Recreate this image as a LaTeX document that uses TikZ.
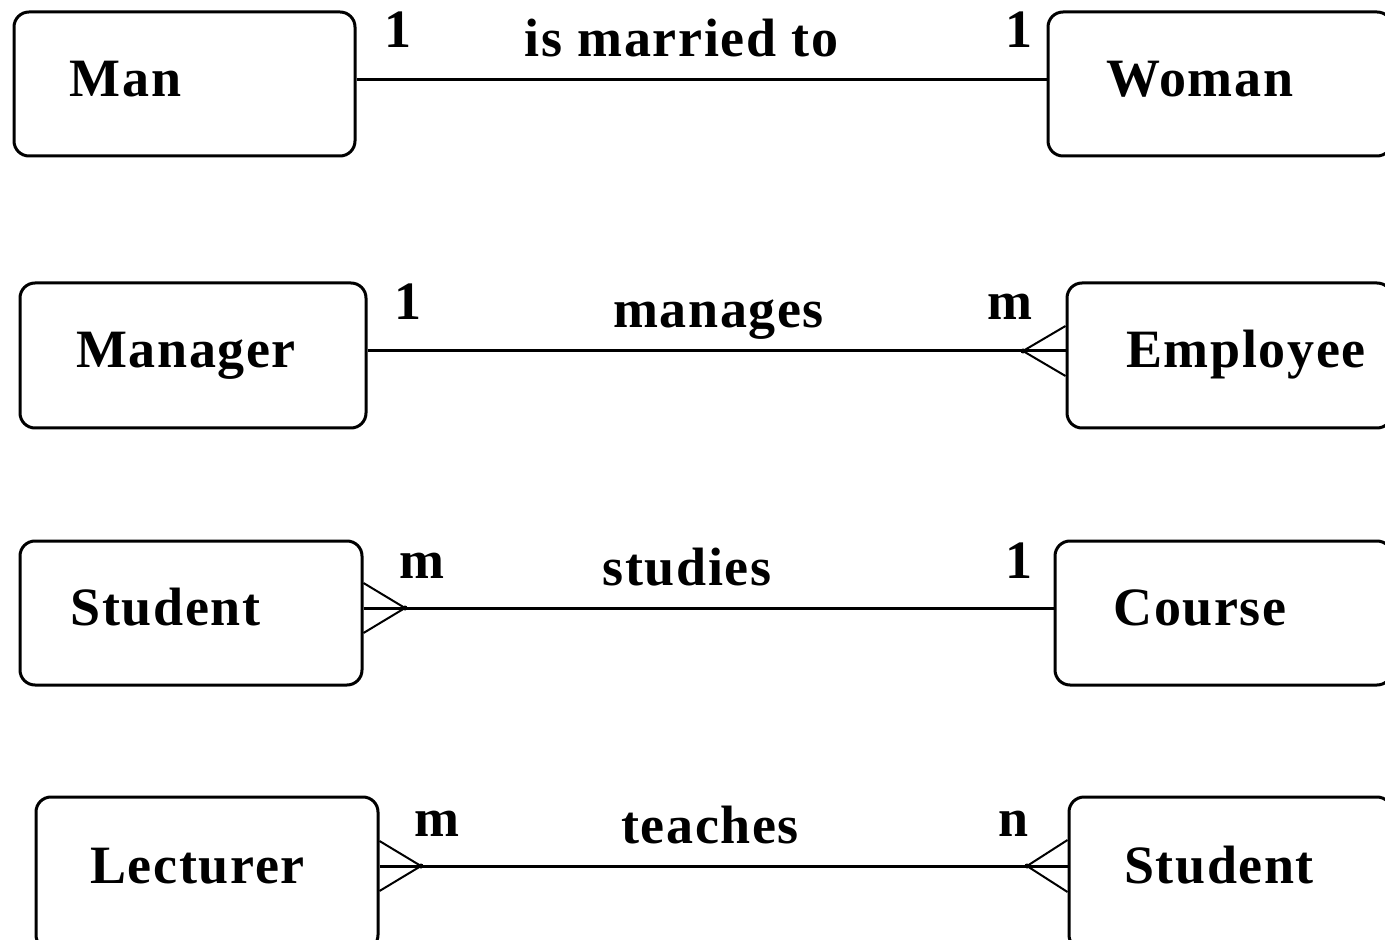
\documentclass[tikz,border=0pt]{standalone}
\usepackage{fontspec}
\setmainfont[LetterSpace=3]{Liberation Serif}
\usetikzlibrary{calc}
\begin{document}
\begin{tikzpicture}[x=0.5pt,y=-0.5pt,
  ent/.style={draw=black, line width=1.5pt, rounded corners=7.5pt, inner sep=0pt, fill=none},
  lbl/.style={font=\fontsize{27}{30}\selectfont\bfseries, inner sep=0pt, anchor=base},
  conn/.style={draw=black, line width=1.5pt},
  prong/.style={draw=black, line width=1pt}]
\useasboundingbox (0,0) rectangle (1385,940);
% entities
\node[ent, minimum width=170.5pt, minimum height=72pt] (man) at (184.5,84) {};
\node[ent, minimum width=172pt, minimum height=72pt] (wom) at (1220,84) {};
\node[ent, minimum width=173pt, minimum height=72.5pt] (mgr) at (193,355.5) {};
\node[ent, minimum width=162.5pt, minimum height=72.5pt] (emp) at (1229.5,355.5) {};
\node[ent, minimum width=171pt, minimum height=72pt] (stu) at (191,613) {};
\node[ent, minimum width=168.5pt, minimum height=72pt] (crs) at (1223.5,613) {};
\node[ent, minimum width=171pt, minimum height=76.5pt] (lec) at (207,873.5) {};
\node[ent, minimum width=161.5pt, minimum height=76.5pt] (stub) at (1230.5,873.5) {};
% entity labels
\node[lbl] (manl) at (125.5,97) {Man};
\node[lbl] (woml) at (1200,97) {Woman};
\node[lbl] (mgrl) at (186,368) {Manager};
\node[lbl] (empl) at (1246,368) {Employee};
\node[lbl] (stul) at (165.5,625) {Student};
\node[lbl] (crsl) at (1200,625) {Course};
\node[lbl] (lecl) at (197.5,883) {Lecturer};
\node[lbl] (stubl) at (1219,883) {Student};
% relationship labels
\node[lbl] (r1l) at (681.5,57) {is married to};
\node[lbl] (r2l) at (718.5,328) {manages};
\node[lbl] (r3l) at (687,585) {studies};
\node[lbl] (r4l) at (710,843) {teaches};
% cardinalities
\node[lbl] (c1a) at (398,48) {1};
\node[lbl] (c1b) at (1019,48) {1};
\node[lbl] (c2a) at (408,320) {1};
\node[lbl] (c2b) at (1010,320) {m};
\node[lbl] (c3a) at (422,578) {m};
\node[lbl] (c3b) at (1019,578) {1};
\node[lbl] (c4a) at (437,836) {m};
\node[lbl] (c4b) at (1013,836) {n};
% line rows
\coordinate (r1) at (0,80);
\coordinate (r2) at (0,351);
\coordinate (r3) at (0,608);
\coordinate (r4) at (0,866);
% connectors
\draw[conn] (man.east |- r1) -- (wom.west |- r1);
\draw[conn] (mgr.east |- r2) -- (emp.west |- r2);
\draw[conn] (stu.east |- r3) -- (crs.west |- r3);
\draw[conn] (lec.east |- r4) -- (stub.west |- r4);
% crow's feet
\coordinate (f2) at (1023,351);
\draw[prong] ($(emp.west |- r2)+(0,-25)$) -- (f2) -- ($(emp.west |- r2)+(0,25)$);
\fill (f2) circle (2.5);
\coordinate (f3) at (405,608);
\draw[prong] ($(stu.east |- r3)+(0,-25)$) -- (f3) -- ($(stu.east |- r3)+(0,25)$);
\fill (f3) circle (2.5);
\coordinate (f4a) at (421,866);
\draw[prong] ($(lec.east |- r4)+(0,-25)$) -- (f4a) -- ($(lec.east |- r4)+(0,25)$);
\fill (f4a) circle (2.5);
\coordinate (f4b) at (1027,866);
\draw[prong] ($(stub.west |- r4)+(0,-26)$) -- (f4b) -- ($(stub.west |- r4)+(0,26)$);
\fill (f4b) circle (2.5);
\end{tikzpicture}
\end{document}
